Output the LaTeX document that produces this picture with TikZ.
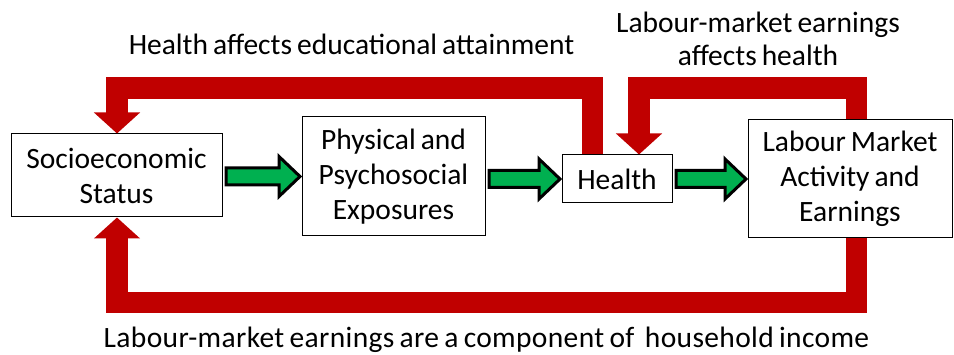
\documentclass[tikz,border=0pt]{standalone}
\usepackage{fontspec}
\setmainfont{Carlito}[WordSpace=0.75]
\usetikzlibrary{calc,arrows.meta}
\definecolor{loopred}{RGB}{192,0,0}
\definecolor{flowgreen}{RGB}{0,176,80}
\tikzset{
  box/.style={draw=black, line width=1pt, fill=white, align=center, inner sep=0pt,
    font=\fontsize{29.5}{35}\selectfont},
  caption/.style={align=center, inner sep=0pt, font=\fontsize{29.5}{33.5}\selectfont},
  feedback/.style={draw=loopred, line width=21.5pt, line join=miter,
    -{Triangle[width=45pt,length=21pt]}},
  flow/.style={fill=flowgreen, draw=black, line width=3pt, line join=miter},
}
% horizontal block arrow from the east side of #1 to the west side of #2
\newcommand\blockarrow[2]{%
  \path[flow] let \p1=($(#1.east)+(3.5pt,0)$), \p2=($(#2.west)+(-1.5pt,0)$) in
    (\x1,\y2+8.5pt) -- (\x2-21pt,\y2+8.5pt) -- (\x2-21pt,\y2+20pt) -- (\x2,\y2)
    -- (\x2-21pt,\y2-20pt) -- (\x2-21pt,\y2-8.5pt) -- (\x1,\y2-8.5pt) -- cycle;}
\begin{document}
\begin{tikzpicture}[x=1pt,y=-1pt]
  \useasboundingbox (0,0) rectangle (954,355);

  % boxes
  \node[box, minimum width=211pt, minimum height=83pt] (ses) at (116.5,175.5) {Socioeconomic\\Status};
  \node[box, minimum width=183pt, minimum height=119pt] (phys) at (393.5,176.5) {Physical and\\Psychosocial\\Exposures};
  \node[box, minimum width=110pt, minimum height=48pt] (health) at (617,179) {Health};
  \node[box, minimum width=204pt, minimum height=118pt] (lab) at (850,179) {Labour Market\\Activity and\\Earnings};

  % main pathway
  \blockarrow{ses}{phys}
  \blockarrow{phys}{health}
  \blockarrow{health}{lab}

  % feedback loops
  \coordinate (topband) at (0,88);
  \coordinate (lowband) at (0,302.5);
  \coordinate (hout) at ([xshift=-24.5pt]health.north);
  \coordinate (hin) at ([xshift=22pt]health.north);
  \coordinate (lout) at ([xshift=6.5pt]lab.north);
  \coordinate (lbot) at ([xshift=6.5pt]lab.south);
  \coordinate (sin) at ([xshift=0.5pt]ses.north);
  \coordinate (sbot) at ([xshift=0.5pt]ses.south);

  \draw[feedback] (hout) -- (hout |- topband) -- (sin |- topband) -- (sin);
  \draw[feedback] (lout) -- (lout |- topband) -- (hin |- topband) -- (hin);
  \draw[feedback] (lbot) -- (lbot |- lowband) -- (sbot |- lowband) -- (sbot);

  % loop labels
  \node[caption, anchor=base] (t1) at (351.5,55) {Health affects educational attainment};
  \node[caption] (t2) at (758,39) {Labour-market earnings\\affects health};
  \node[caption, anchor=base] (t3) at (486.5,348)
    {\addfontfeature{LetterSpace=1.2}Labour-market earnings are a component of\ \ household income};
\end{tikzpicture}
\end{document}
